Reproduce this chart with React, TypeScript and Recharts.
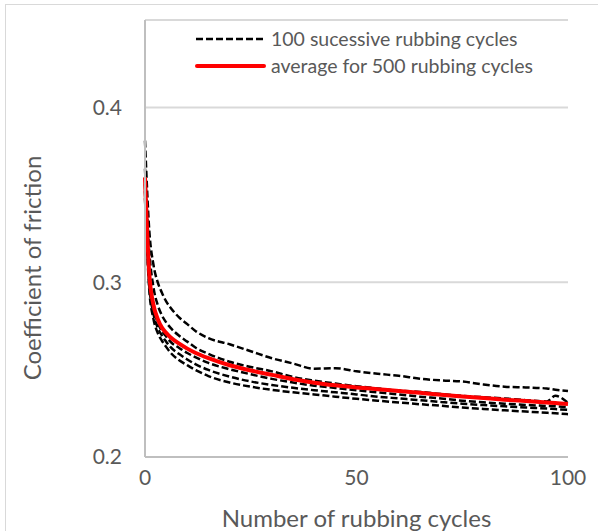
import React from 'react';
import {
  LineChart,
  Line,
  XAxis,
  YAxis,
  CartesianGrid,
  Label
} from 'recharts';

// rubbing cycle at which each value is read
const cycles = [0, 1, 2, 3, 4, 5, 6, 8, 10, 12, 15, 20, 25, 30, 35, 40, 45, 50, 55, 60, 65, 70, 75, 80, 85, 90, 95, 97, 100];

// five runs of 100 successive rubbing cycles
const run1 = [0.381, 0.33, 0.31, 0.3, 0.294, 0.289, 0.2855, 0.28, 0.276, 0.272, 0.268, 0.2645, 0.2605, 0.2565, 0.2535, 0.2505, 0.2508, 0.249, 0.2476, 0.2465, 0.2448, 0.2438, 0.2432, 0.2415, 0.2402, 0.2398, 0.2392, 0.2385, 0.2377];
const run2 = [0.365, 0.318, 0.297, 0.287, 0.281, 0.277, 0.274, 0.2695, 0.266, 0.2625, 0.259, 0.2545, 0.2515, 0.249, 0.2458, 0.2437, 0.242, 0.2405, 0.2392, 0.238, 0.2372, 0.236, 0.235, 0.2342, 0.2335, 0.2325, 0.2318, 0.235, 0.231];
const run3 = [0.356, 0.302, 0.285, 0.277, 0.272, 0.269, 0.266, 0.2625, 0.2595, 0.257, 0.2538, 0.2502, 0.2473, 0.2447, 0.2426, 0.2408, 0.2395, 0.2382, 0.237, 0.2358, 0.2345, 0.2335, 0.2322, 0.2313, 0.2305, 0.2298, 0.2292, 0.229, 0.2285];
const run4 = [0.352, 0.299, 0.282, 0.274, 0.2695, 0.266, 0.263, 0.259, 0.2558, 0.253, 0.2498, 0.246, 0.2432, 0.2412, 0.2396, 0.2382, 0.237, 0.2358, 0.2345, 0.2335, 0.2325, 0.2315, 0.2305, 0.2297, 0.229, 0.2283, 0.2277, 0.2274, 0.227];
const run5 = [0.348, 0.296, 0.279, 0.271, 0.2665, 0.263, 0.2598, 0.2555, 0.2525, 0.2497, 0.2463, 0.2426, 0.2402, 0.2384, 0.237, 0.2358, 0.2345, 0.2333, 0.2322, 0.2312, 0.2302, 0.2293, 0.2283, 0.2275, 0.2267, 0.226, 0.2253, 0.225, 0.2245];

// average over 500 rubbing cycles
const average = [0.36, 0.305, 0.287, 0.279, 0.274, 0.271, 0.2685, 0.265, 0.262, 0.2595, 0.2565, 0.2525, 0.2495, 0.247, 0.2445, 0.2425, 0.241, 0.2398, 0.2388, 0.2378, 0.2367, 0.2356, 0.2346, 0.2337, 0.2328, 0.232, 0.2312, 0.2309, 0.2303];

const xTicks = [0, 50, 100];
const yTicks = [0.2, 0.3, 0.4];

const legendLabels = ['100 sucessive rubbing cycles', 'average for 500 rubbing cycles'];

const runs = [run1, run2, run3, run4, run5];

const data = cycles.map((c, i) => {
  const row: any = { cycle: c, avg: average[i] };
  runs.forEach((r, k) => {
    row[`r${k + 1}`] = r[i];
  });
  return row;
});

const FONT = 'Lato, "Liberation Sans", sans-serif';
const TEXT = '#595959';

const ChartLegend = () => (
  <div
    style={{
      position: 'absolute',
      left: 195,
      top: 25,
      fontFamily: FONT,
      fontSize: 19.5,
      color: TEXT,
      lineHeight: '27px',
      whiteSpace: 'nowrap'
    }}
  >
    <div style={{ display: 'flex', alignItems: 'center' }}>
      <svg width={72} height={10}>
        <line x1={1} y1={5} x2={70} y2={5} stroke="#000" strokeWidth={2.5} strokeDasharray="7 3" />
      </svg>
      <span style={{ marginLeft: 4 }}>{legendLabels[0]}</span>
    </div>
    <div style={{ display: 'flex', alignItems: 'center' }}>
      <svg width={72} height={10}>
        <line x1={2} y1={5} x2={69} y2={5} stroke="#ff0000" strokeWidth={4} strokeLinecap="round" />
      </svg>
      <span style={{ marginLeft: 4 }}>{legendLabels[1]}</span>
    </div>
  </div>
);

// y axis title, a bit below the plot centre as in the original
const YTitle = () => (
  <text
    x={31}
    y={268}
    transform="rotate(-90, 31, 268)"
    textAnchor="middle"
    dominantBaseline="central"
    fill={TEXT}
    fontSize={24}
    fontFamily={FONT}
  >
    Coefficient of friction
  </text>
);

export default function App() {
  return (
    <div style={{ position: 'absolute', left: 0, top: 0, width: 598, height: 531, background: '#fff', overflow: 'hidden' }}>
      <div style={{ position: 'absolute', left: 5, top: 4, width: 600, height: 540, border: '1px solid #d9d9d9' }} />
      <LineChart
        width={598}
        height={531}
        data={data}
        margin={{ top: 20, right: 30, left: 0, bottom: 0 }}
        style={{ position: 'absolute', left: 0, top: 0 }}
      >
        <CartesianGrid vertical={false} stroke="#d9d9d9" strokeWidth={2} />
        <XAxis
          dataKey="cycle"
          type="number"
          domain={[0, 100]}
          ticks={xTicks}
          height={74}
          tickSize={0}
          tickMargin={13}
          tickLine={false}
          axisLine={{ stroke: '#bfbfbf', strokeWidth: 2 }}
          tick={{ fill: TEXT, fontSize: 21, fontFamily: FONT }}
        >
          <Label
            value="Number of rubbing cycles"
            position="insideBottom"
            offset={4}
            style={{ fill: TEXT, fontSize: 24, fontFamily: FONT }}
          />
        </XAxis>
        <YAxis
          type="number"
          domain={[0.2, 0.45]}
          ticks={yTicks}
          width={145}
          tickSize={0}
          tickMargin={23}
          tickLine={false}
          axisLine={{ stroke: '#bfbfbf', strokeWidth: 2 }}
          tick={{ fill: TEXT, fontSize: 21, fontFamily: FONT }}
          tickFormatter={(v: number) => v.toFixed(1)}
        >
          <Label content={<YTitle />} />
        </YAxis>
        {runs.map((_, k) => (
          <Line
            key={k}
            type="monotone"
            dataKey={`r${k + 1}`}
            stroke="#000"
            strokeWidth={2.5}
            strokeDasharray="7 3"
            dot={false}
            isAnimationActive={false}
          />
        ))}
        <Line
          type="monotone"
          dataKey="avg"
          stroke="#ff0000"
          strokeWidth={4}
          dot={false}
          isAnimationActive={false}
        />
      </LineChart>
      <ChartLegend />
    </div>
  );
}
